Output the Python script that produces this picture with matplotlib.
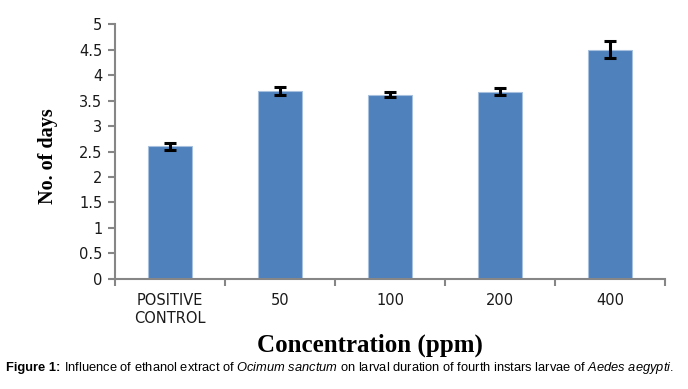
import matplotlib.pyplot as plt
import numpy as np

categories = ["POSITIVE\nCONTROL", "50", "100", "200", "400"]
days = [2.60, 3.68, 3.61, 3.67, 4.50]
errors = [0.07, 0.08, 0.05, 0.07, 0.16]

plt.rcParams["mathtext.fontset"] = "custom"
plt.rcParams["mathtext.rm"] = "Liberation Sans"
plt.rcParams["mathtext.it"] = "Liberation Sans:italic"

fig = plt.figure(figsize=(6.88, 3.89), dpi=100)
ax = fig.add_axes([0.167, 0.283, 0.8, 0.655])

x = np.arange(len(categories))
ax.bar(x, days, width=0.4, color="#4F81BD", edgecolor="#A7C0DE", linewidth=0.8, zorder=2)
ax.errorbar(x, days, yerr=errors, fmt="none", ecolor="black", elinewidth=2.2,
            capsize=4.5, capthick=2.2, zorder=3)

ax.set_xlim(-0.5, 4.5)
ax.set_ylim(0, 5)
ax.set_yticks(np.arange(0, 5.01, 0.5))
ax.set_yticklabels(["0", "0.5", "1", "1.5", "2", "2.5", "3", "3.5", "4", "4.5", "5"])
ax.set_xticks(x)
ax.set_xticklabels(categories)
ax.set_xticks(np.arange(-0.5, 4.6, 1), minor=True)

for s in ["top", "right"]:
    ax.spines[s].set_visible(False)
for s in ["left", "bottom"]:
    ax.spines[s].set_color("#868686")
    ax.spines[s].set_linewidth(1.5)

ax.tick_params(axis="y", length=5, width=1.5, color="#868686", labelsize=10.5,
               labelcolor="#1a1a1a", pad=4)
ax.tick_params(axis="x", which="major", length=0, labelsize=10.5, labelcolor="#1a1a1a", pad=10)
ax.tick_params(axis="x", which="minor", length=5, width=1.5, color="#868686")
for lab in ax.get_xticklabels() + ax.get_yticklabels():
    lab.set_family("DejaVu Sans")
    lab.set_linespacing(1.25)

ax.set_ylabel("No. of days", family="Liberation Serif", fontweight="bold", fontsize=14.5)
ax.yaxis.set_label_coords(-0.103, 0.48)
ax.set_xlabel("Concentration (ppm)", family="Liberation Serif", fontweight="bold", fontsize=18)
ax.xaxis.set_label_coords(0.464, -0.215)

fig.text(0.008, 0.047, "Figure 1:", family="Liberation Sans", fontweight="bold", fontsize=9.3)
fig.text(0.093, 0.047, "Influence of ethanol extract of $\\it{Ocimum\\ sanctum}$ on larval duration of "
         "fourth instars larvae of $\\it{Aedes\\ aegypti}$.", family="Liberation Sans", fontsize=9.3)

fig.savefig("out.png", dpi=100)
